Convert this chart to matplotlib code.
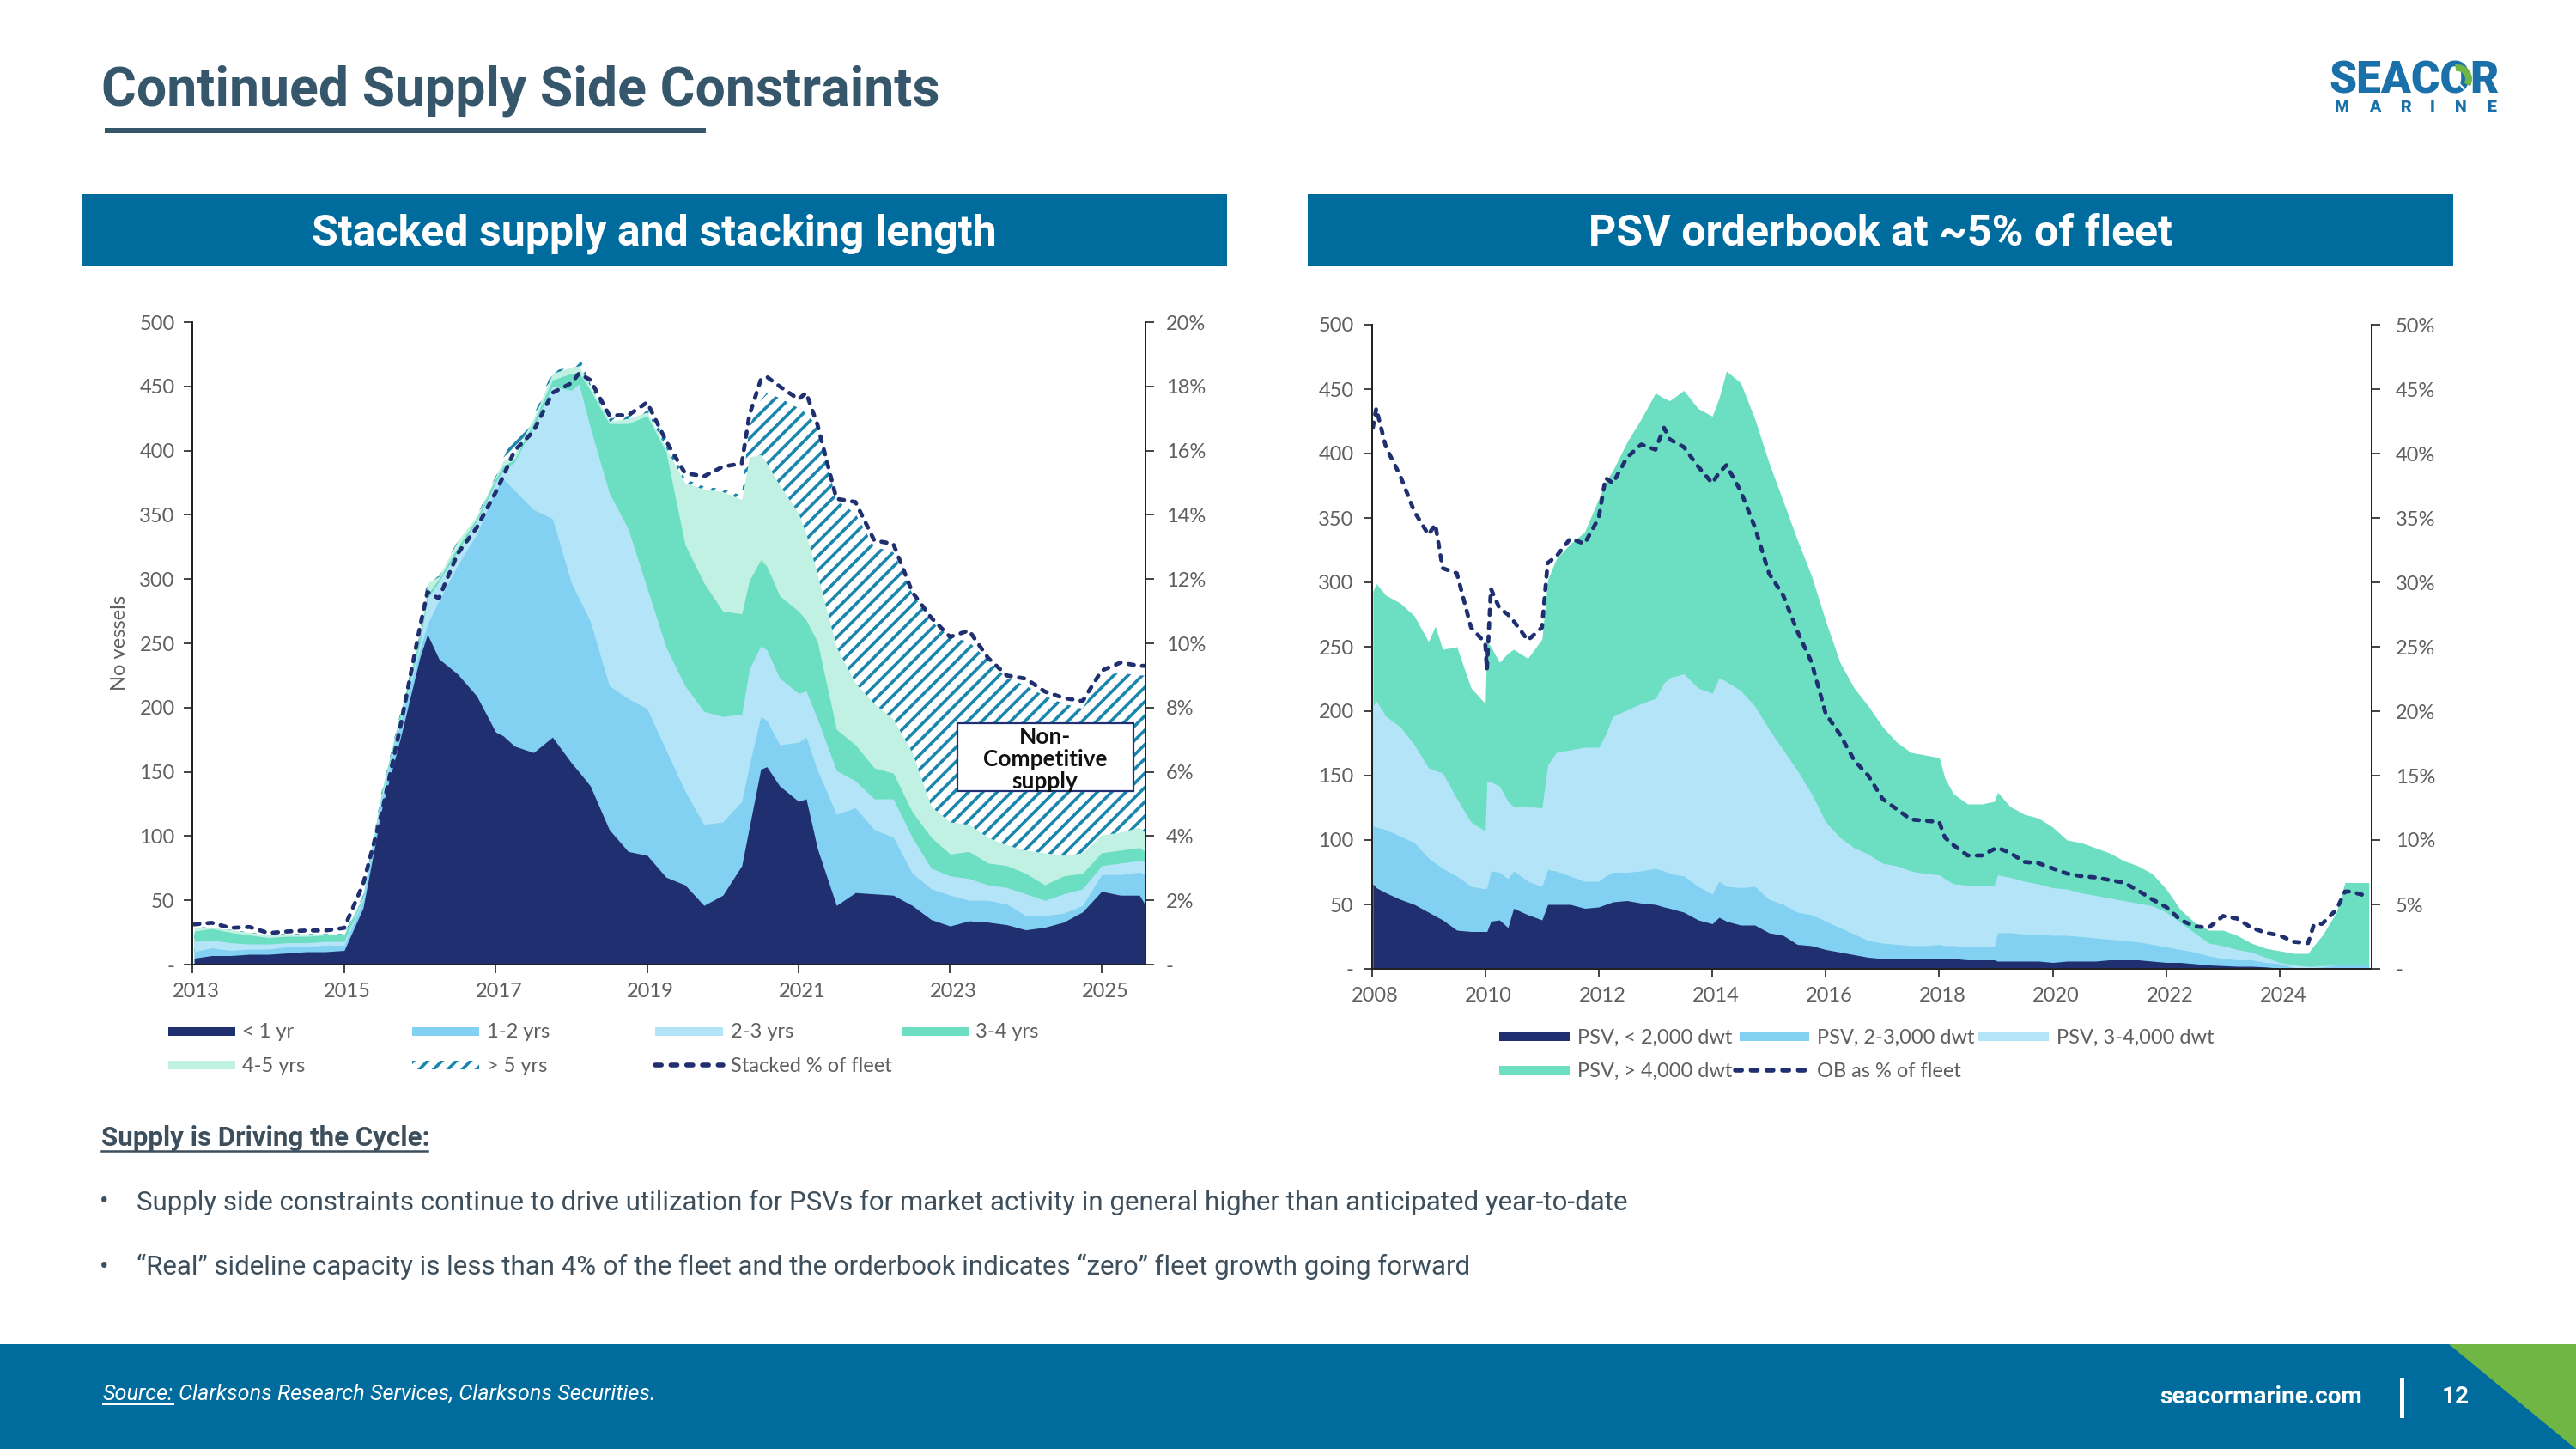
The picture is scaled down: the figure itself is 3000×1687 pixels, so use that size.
import numpy as np
from matplotlib import pyplot as plt
from matplotlib.patches import Rectangle, Polygon, Wedge
from matplotlib.transforms import ScaledTranslation

# left chart, stacked tops
years_l = [2013.02, 2013.25, 2013.5, 2013.75,
           2014, 2014.25, 2014.5, 2014.75,
           2015, 2015.25, 2015.5, 2015.75,
           2016, 2016.1, 2016.25, 2016.5, 2016.75,
           2017, 2017.1, 2017.25, 2017.5, 2017.75,
           2018, 2018.1, 2018.25, 2018.5, 2018.75,
           2019, 2019.25, 2019.5, 2019.75,
           2020, 2020.25, 2020.35, 2020.5, 2020.58, 2020.75,
           2021, 2021.1, 2021.25, 2021.5, 2021.75,
           2022, 2022.25, 2022.5, 2022.75,
           2023, 2023.25, 2023.5, 2023.75,
           2024, 2024.25, 2024.5, 2024.75,
           2025, 2025.25, 2025.5, 2025.57]
lt1 = [5, 7, 7, 8, 8, 9, 10, 10, 11, 44, 122, 178,
       239, 257, 238, 226, 209, 181, 178, 170, 165, 177,
       157, 150, 139, 105, 88, 85, 68, 62, 46,
       54, 77, 107, 152, 154, 139, 127, 129, 90, 46, 56,
       55, 54, 46, 35, 30, 34, 33, 31, 27, 29, 33, 41, 57, 54, 54, 47]
y1_2 = [10, 13, 11, 12, 12, 14, 14, 15, 15, 50, 130, 190,
        245, 265, 283, 311, 335, 369, 378, 369, 354, 347,
        297, 285, 267, 217, 207, 199, 167, 135, 109,
        111, 127, 155, 193, 190, 171, 173, 177, 151, 117, 122,
        105, 99, 71, 59, 54, 50, 50, 47, 38, 38, 40, 46, 70, 70, 72, 70]
y2_3 = [18, 19, 17, 16, 16, 17, 17, 18, 18, 52, 133, 193,
        250, 285, 298, 322, 345, 375, 385, 391, 419, 450,
        447, 452, 418, 367, 339, 293, 247, 217, 197,
        193, 195, 230, 248, 245, 223, 211, 213, 191, 151, 143,
        129, 129, 99, 75, 69, 67, 62, 60, 55, 50, 55, 59, 77, 79, 81, 80]
y3_4 = [26, 28, 25, 23, 21, 22, 22, 23, 23, 53, 135, 197,
        255, 288, 300, 325, 347, 378, 388, 393, 422, 455,
        460, 461, 447, 421, 421, 427, 399, 327, 297,
        275, 273, 299, 315, 310, 287, 275, 268, 251, 183, 171,
        153, 149, 119, 99, 86, 88, 79, 77, 71, 62, 69, 71, 87, 89, 91, 88]
y4_5 = [29, 29, 27, 25, 23, 24, 24, 24, 24, 54, 136, 198,
        257, 297, 302, 330, 349, 380, 392, 398, 425, 460,
        465, 466, 450, 423, 425, 430, 402, 375, 370,
        368, 362, 395, 397, 390, 373, 351, 335, 303, 247, 219,
        203, 191, 165, 123, 111, 109, 99, 93, 89, 87, 85, 87, 101, 103, 107, 103]
gt5 = [29, 29, 27, 25, 23, 24, 24, 24, 24, 54, 136, 198,
       257, 302, 302, 330, 349, 380, 394, 412, 427, 462,
       465, 474, 452, 425, 427, 432, 410, 378, 372,
       370, 365, 419, 439, 445, 441, 433, 429, 419, 361, 351,
       325, 321, 289, 267, 255, 251, 237, 223, 217, 209, 203, 199, 225, 227, 225, 225]
stacked_pct = [1.25, 1.3, 1.14, 1.17, .98, 1.03, 1.06, 1.06, 1.14, 2.5, 4.75, 7.5,
               10.5, 11.6, 11.4, 12.8, 13.6, 14.7, 15.2, 16, 16.6, 17.8,
               18.1, 18.4, 18.2, 17.1, 17.1, 17.5, 16.3, 15.3, 15.2,
               15.5, 15.6, 17.1, 18.2, 18.3, 18, 17.6, 17.8, 16.8, 14.5, 14.4,
               13.2, 13.1, 11.6, 10.8, 10.2, 10.4, 9.55, 9, 8.9, 8.5, 8.3, 8.2, 9.15, 9.4, 9.3, 9.3]

# right chart
years_r = [2008.02, 2008.08, 2008.25, 2008.5, 2008.75,
           2009, 2009.12, 2009.25, 2009.5, 2009.75,
           2010, 2010.03, 2010.1, 2010.25, 2010.4, 2010.5, 2010.75,
           2011, 2011.1, 2011.25, 2011.5, 2011.75,
           2012, 2012.12, 2012.25, 2012.5, 2012.75,
           2013, 2013.15, 2013.25, 2013.5, 2013.75,
           2014, 2014.12, 2014.25, 2014.5, 2014.75,
           2015, 2015.25, 2015.5, 2015.75,
           2016, 2016.25, 2016.5, 2016.75,
           2017, 2017.25, 2017.5, 2017.75,
           2018, 2018.1, 2018.25, 2018.5, 2018.75, 2018.97,
           2019.03, 2019.25, 2019.5, 2019.75,
           2020, 2020.25, 2020.5, 2020.75,
           2021, 2021.25, 2021.5, 2021.75,
           2022, 2022.25, 2022.5, 2022.75,
           2023, 2023.25, 2023.5, 2023.75,
           2024, 2024.25, 2024.5, 2024.6, 2024.75,
           2025, 2025.15, 2025.25, 2025.5, 2025.57]
psv_lt2 = [66, 63, 59, 54, 50, 44, 41, 38, 30, 29,
           29, 29, 37, 38, 32, 47, 42, 38, 50, 50, 50, 47,
           48, 50, 52, 53, 51, 50, 48, 47, 44, 38, 35, 40, 37, 34, 34,
           28, 26, 19, 18, 15, 13, 11, 9, 8, 8, 8, 8,
           8, 8, 8, 7, 7, 7, 6, 6, 6, 6, 5, 6, 6, 6, 7, 7, 7, 6,
           5, 5, 4, 3, 2.5, 2, 2, 1.5, .5, 0, 0, 0, 0, 0, 0, 0, 0, 0]
psv_2_3 = [111, 110, 108, 103, 98, 86, 82, 78, 72, 64,
           62, 63, 76, 75, 70, 76, 68, 64, 77, 76, 72, 68,
           68, 72, 75, 75, 76, 78, 76, 74, 72, 64, 58, 68, 64, 63, 64,
           54, 50, 44, 42, 37, 32, 27, 22, 20, 19, 18, 18,
           19, 18, 18, 17, 17, 17, 28, 28, 27, 27, 26, 26, 25, 24, 23, 22, 21, 19,
           17, 15, 13, 10, 8, 7, 7, 5, 4, 1, 1, 1, 1.5, 3, 3, 3, 3, 3]
psv_3_4 = [204, 208, 196, 188, 174, 156, 154, 152, 132, 114,
           107, 146, 145, 142, 130, 126, 126, 125, 158, 168, 170, 172,
           172, 182, 196, 201, 206, 210, 222, 226, 229, 218, 214, 226, 223, 216, 204,
           186, 170, 154, 136, 114, 102, 94, 89, 82, 80, 76, 74,
           73, 70, 66, 65, 65, 65, 73, 71, 68, 66, 63, 62, 59, 57, 55, 53, 51, 49,
           44, 36, 28, 20, 18, 15, 13, 9, 5, 3, 2, 2, 2.5, 3, 3, 3, 3, 3]
psv_gt4 = [293, 299, 290, 284, 274, 254, 266, 248, 250, 218,
           206, 254, 250, 238, 245, 248, 241, 256, 302, 318, 330, 339,
           365, 378, 387, 409, 427, 447, 443, 441, 449, 435, 429, 443, 464, 455, 427,
           393, 363, 333, 305, 270, 238, 218, 204, 188, 176, 168, 166,
           164, 148, 136, 128, 128, 130, 137, 126, 120, 117, 110, 100, 98, 94, 90, 84, 80, 74,
           62, 46, 36, 30, 30, 26, 20, 16, 14, 12, 12, 18, 26, 44, 67, 67, 67, 67]
ob_pct = [42, 43.5, 40.5, 38.3, 35.5, 33.7, 34.5, 31.1, 30.7, 26.5,
          25.3, 23.2, 29.5, 28, 27.5, 27, 25.5, 26.5, 31.5, 32, 33.4, 33,
          35, 38.1, 37.7, 39.7, 40.7, 40.3, 42, 41.1, 40.5, 39, 37.7, 38.5, 39.1, 37.1, 34.3,
          30.7, 29, 26.2, 23.8, 19.8, 18.2, 16.2, 15, 13.2, 12.4, 11.6, 11.5,
          11.4, 10.2, 9.6, 8.8, 8.8, 9.3, 9.4, 9, 8.3, 8.2, 7.8, 7.4, 7.2, 7.1, 6.9, 6.7, 6.1, 5.4,
          4.8, 3.8, 3.3, 3.2, 4.1, 3.9, 3.2, 2.8, 2.6, 2.1, 2, 3.4, 3.5, 4.6, 6, 6, 5.7, 5.6]

NAVY, SKY, PALE, GREEN, MINT = '#1f2f6f', '#82d0f2', '#b4e4f7', '#6cdec2', '#c0f1e2'
TEAL, BLUE, LEAF, SLATE, GREY = '#1a86ad', '#006c9e', '#70b644', '#36566b', '#5f5f5f'
DASH = (0, (1.3, 2.0))

plt.rcParams['font.family'] = ['Roboto', 'DejaVu Sans']
plt.rcParams['hatch.linewidth'] = 2.6

W, H = 3000, 1687
fig = plt.figure(figsize=(W / 100, H / 100), dpi=100)


def px_axes(left, top, right, bottom, **kw):
    return fig.add_axes([left / W, 1 - bottom / H, (right - left) / W, (bottom - top) / H], **kw)


def overlay(z):
    a = px_axes(0, 0, W, H, zorder=z)
    a.set_xlim(0, W)
    a.set_ylim(H, 0)
    a.axis('off')
    a.patch.set_alpha(0)
    return a


bg = overlay(0)
fg = overlay(5)

# slide furniture
bg.text(118, 106, 'Continued Supply Side Constraints', fontsize=45, fontweight='bold', color=SLATE, va='center')
bg.add_patch(Rectangle((122, 149), 700, 6, color=SLATE, lw=0))
for x0, x1, txt in [(95, 1429, 'Stacked supply and stacking length'), (1523, 2857, 'PSV orderbook at ~5% of fleet')]:
    bg.add_patch(Rectangle((x0, 226), x1 - x0, 84, color=BLUE, lw=0))
    bg.text((x0 + x1) / 2, 272, txt, fontsize=36, fontweight='bold', color='white', ha='center', va='center')

bg.text(2812, 94, 'SEACOR', fontsize=37, fontweight='black', color='#1a70a8', ha='center', va='center')
bg.add_patch(Wedge((2862, 92), 17, -100, 30, width=8, color=LEAF, lw=0, zorder=5))
bg.plot([2857, 2869], [90, 103], color='white', lw=1.6, zorder=6)
for lx, ch in zip([2728, 2766, 2802, 2833, 2866, 2902], 'MARINE'):
    bg.text(lx, 125, ch, fontsize=14, fontweight='black', color='#1a70a8', ha='center', va='center')

bg.text(118, 1325, 'Supply is Driving the Cycle:', fontsize=22.5, fontweight='bold', color='#3d4f5c', va='center')
bg.plot([118, 498], [1340, 1340], color='#3d4f5c', lw=1.8)
for yy, txt in [(1400, 'Supply side constraints continue to drive utilization for PSVs for market activity in general higher than anticipated year-to-date'),
                (1475, '“Real” sideline capacity is less than 4% of the fleet and the orderbook indicates “zero” fleet growth going forward')]:
    bg.text(116, yy, '•', fontsize=22.5, color='#3d4f5c', va='center')
    bg.text(159, yy, txt, fontsize=22.5, color='#3d4f5c', va='center')

bg.add_patch(Rectangle((0, 1565), W, H - 1565, color=BLUE, lw=0))
bg.add_patch(Polygon([(2852, 1565), (W, 1565), (W, 1687)], closed=True, color=LEAF, lw=0))
bg.text(120, 1623, 'Source:', fontsize=18.2, style='italic', color='white', va='center')
bg.plot([120, 202], [1635, 1635], color='white', lw=1.4)
bg.text(208, 1623, 'Clarksons Research Services, Clarksons Securities.', fontsize=18.2, style='italic', color='white', va='center')
bg.text(2751, 1627, 'seacormarine.com', fontsize=20.2, fontweight='bold', color='white', ha='right', va='center')
bg.add_patch(Rectangle((2795, 1604), 5, 47, color='white', lw=0))
bg.text(2860, 1627, '12', fontsize=20.2, fontweight='bold', color='white', ha='center', va='center')


def style_axes(ax, ax2, x0, x1, xticks, rlabels, rpad):
    ax.set_xlim(x0, x1)
    ax.set_ylim(0, 500)
    ax.patch.set_alpha(0)
    ax.set_xticks(xticks)
    ax.set_xticklabels([str(t) for t in xticks], family='Lato', fontsize=17, color=GREY)
    ax.set_yticks(np.arange(0, 501, 50))
    ax.set_yticklabels(['-'] + [str(t) for t in range(50, 501, 50)], family='Lato', fontsize=17, color=GREY)
    ax.tick_params(axis='both', length=7, width=1.2, color='#222222', pad=8)
    ax2.tick_params(axis='y', length=7, width=1.2, color='#222222', pad=rpad)
    ax2.set_yticklabels(rlabels, family='Lato', fontsize=17, color=GREY)
    # year labels sit a little right of their ticks
    shift = ScaledTranslation(4 / 100, 0, fig.dpi_scale_trans)
    for lbl in ax.get_xticklabels():
        lbl.set_transform(lbl.get_transform() + shift)
    for a in (ax, ax2):
        a.spines['top'].set_visible(False)
        for s in a.spines.values():
            s.set_color('#222222')
            s.set_linewidth(1.3)


def legend_row(items, y, ht=10):
    # items: (x0, x1, text x, text, kind, colour)
    for x0, x1, tx, label, kind, col in items:
        if kind == 'patch':
            bg.add_patch(Rectangle((x0, y - ht / 2), x1 - x0, ht, color=col, lw=0))
        elif kind == 'hatch':
            bg.add_patch(Rectangle((x0, y - ht / 2), x1 - x0, ht, facecolor='white', edgecolor=col, hatch='//', lw=0))
        else:
            bg.plot([x0, x1], [y, y], color=col, lw=4, ls=DASH, dash_capstyle='round')
        bg.text(tx, y + 1, label, family='Lato', fontsize=17, color=GREY, va='center')


# left chart
ax1 = px_axes(224.4, 375, 1334, 1123, zorder=2)
ax1b = ax1.twinx()
ax1.fill_between(years_l, 0, gt5, facecolor='white', edgecolor=TEAL, hatch='//', linewidth=0)
ax1.fill_between(years_l, 0, y4_5, color=MINT, lw=0)
ax1.fill_between(years_l, 0, y3_4, color=GREEN, lw=0)
ax1.fill_between(years_l, 0, y2_3, color=PALE, lw=0)
ax1.fill_between(years_l, 0, y1_2, color=SKY, lw=0)
ax1.fill_between(years_l, 0, lt1, color=NAVY, lw=0)
ax1b.plot(years_l, stacked_pct, color=NAVY, lw=3.4, ls=DASH, dash_capstyle='round')
ax1b.set_ylim(0, 20)
ax1b.set_yticks(np.arange(0, 21, 2))
style_axes(ax1, ax1b, 2013, 2025.58, list(range(2013, 2026, 2)),
           ['-'] + [f'{p}%' for p in range(2, 21, 2)], 10)
ax1.set_ylabel('No vessels', family='Lato', fontsize=17, color=GREY, labelpad=9)

fg.add_patch(Rectangle((1115, 842), 205, 79, facecolor='white', edgecolor=NAVY, lw=1.6))
fg.text(1217, 884, 'Non-\nCompetitive\nsupply', family='Lato', fontsize=19, fontweight='bold',
        color='#111111', ha='center', va='center', linespacing=1.08)

legend_row([(196, 274, 282, '< 1 yr', 'patch', NAVY), (480, 558, 567, '1-2 yrs', 'patch', SKY),
            (763, 842, 851, '2-3 yrs', 'patch', PALE), (1050, 1128, 1136, '3-4 yrs', 'patch', GREEN)], 1201)
legend_row([(196, 274, 282, '4-5 yrs', 'patch', MINT), (480, 558, 567, '> 5 yrs', 'hatch', TEAL),
            (763, 842, 851, 'Stacked % of fleet', 'line', NAVY)], 1240)

# right chart
ax2 = px_axes(1597.5, 378, 2762, 1128, zorder=2)
ax2b = ax2.twinx()
ax2.fill_between(years_r, 0, psv_gt4, color=GREEN, lw=0)
ax2.fill_between(years_r, 0, psv_3_4, color=PALE, lw=0)
ax2.fill_between(years_r, 0, psv_2_3, color=SKY, lw=0)
ax2.fill_between(years_r, 0, psv_lt2, color=NAVY, lw=0)
ax2b.plot(years_r, ob_pct, color=NAVY, lw=3.4, ls=DASH, dash_capstyle='round')
ax2b.set_ylim(0, 50)
ax2b.set_yticks(np.arange(0, 51, 5))
style_axes(ax2, ax2b, 2008, 2025.62, list(range(2008, 2025, 2)),
           ['-'] + [f'{p}%' for p in range(5, 51, 5)], 13)

legend_row([(1746, 1828, 1837, 'PSV, < 2,000 dwt', 'patch', NAVY), (2026, 2107, 2116, 'PSV, 2-3,000 dwt', 'patch', SKY),
            (2303, 2386, 2395, 'PSV, 3-4,000 dwt', 'patch', PALE)], 1207)
legend_row([(1746, 1828, 1837, 'PSV, > 4,000 dwt', 'patch', GREEN), (2021, 2110, 2116, 'OB as % of fleet', 'line', NAVY)], 1246)

fig.savefig('out.png', dpi=100)
